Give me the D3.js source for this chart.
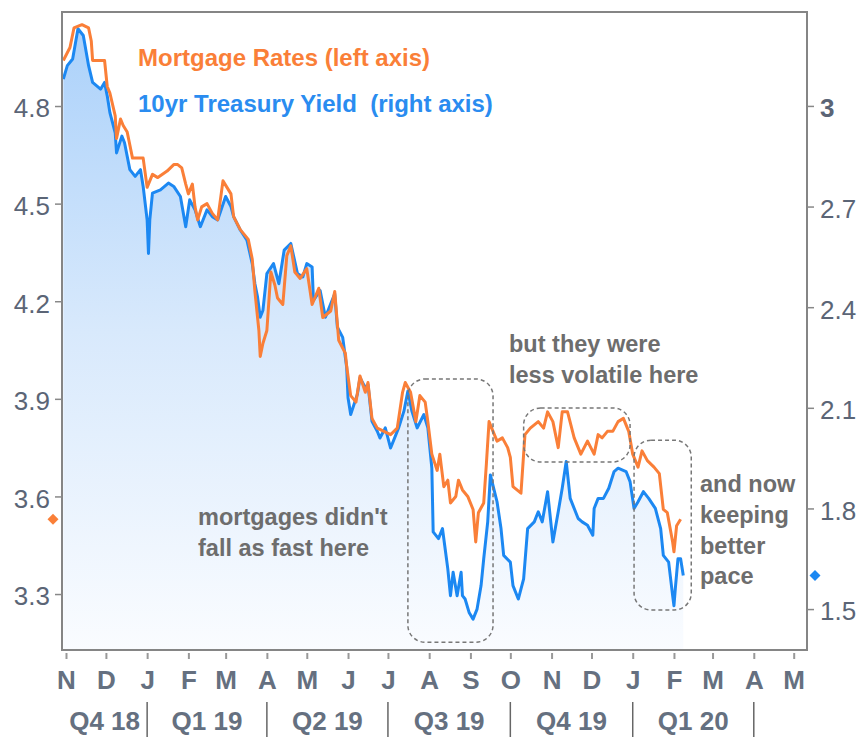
<!DOCTYPE html>
<html>
<head>
<meta charset="utf-8">
<script src="https://cdn.jsdelivr.net/npm/d3@7"></script>
<style>
  body { margin: 0; background: #fff; }
  svg text { font-family: "Liberation Sans", Arial, sans-serif; }
</style>
</head>
<body>
<div class="chart"></div>
<script>
// mortgage rates, left axis
const mortgageRates = [
  ["2018-10-30", 4.94], ["2018-11-04", 4.98], ["2018-11-07", 5.04], ["2018-11-13", 5.05], ["2018-11-18", 5.04],
  ["2018-11-20", 5.00], ["2018-11-21", 4.94], ["2018-11-30", 4.94], ["2018-12-02", 4.86], ["2018-12-04", 4.84],
  ["2018-12-08", 4.77], ["2018-12-09", 4.70], ["2018-12-12", 4.76], ["2018-12-14", 4.74], ["2018-12-17", 4.72],
  ["2018-12-21", 4.64], ["2018-12-29", 4.64], ["2019-01-01", 4.55], ["2019-01-05", 4.59], ["2019-01-09", 4.58],
  ["2019-01-16", 4.60], ["2019-01-21", 4.62], ["2019-01-24", 4.62], ["2019-01-27", 4.61], ["2019-01-30", 4.56],
  ["2019-02-01", 4.53], ["2019-02-04", 4.56], ["2019-02-06", 4.49], ["2019-02-08", 4.45], ["2019-02-11", 4.49],
  ["2019-02-15", 4.50], ["2019-02-19", 4.47], ["2019-02-23", 4.45], ["2019-02-27", 4.57], ["2019-03-02", 4.55],
  ["2019-03-05", 4.53], ["2019-03-07", 4.46], ["2019-03-12", 4.42], ["2019-03-18", 4.39], ["2019-03-21", 4.33],
  ["2019-03-23", 4.23], ["2019-03-26", 4.11], ["2019-03-27", 4.03], ["2019-03-29", 4.07], ["2019-04-01", 4.11],
  ["2019-04-04", 4.29], ["2019-04-07", 4.25], ["2019-04-09", 4.21], ["2019-04-13", 4.19], ["2019-04-16", 4.34],
  ["2019-04-19", 4.37], ["2019-04-22", 4.29], ["2019-04-26", 4.27], ["2019-05-01", 4.30], ["2019-05-05", 4.19],
  ["2019-05-10", 4.24], ["2019-05-13", 4.15], ["2019-05-19", 4.17], ["2019-05-22", 4.23], ["2019-05-25", 4.08],
  ["2019-05-30", 4.04], ["2019-05-31", 4.00], ["2019-06-03", 3.91], ["2019-06-07", 3.89], ["2019-06-10", 3.97],
  ["2019-06-14", 3.92], ["2019-06-16", 3.95], ["2019-06-19", 3.84], ["2019-06-23", 3.81], ["2019-06-28", 3.80],
  ["2019-07-03", 3.79], ["2019-07-08", 3.81], ["2019-07-12", 3.92], ["2019-07-14", 3.95], ["2019-07-18", 3.92],
  ["2019-07-22", 3.83], ["2019-07-25", 3.91], ["2019-07-29", 3.89], ["2019-07-31", 3.83], ["2019-08-03", 3.73],
  ["2019-08-07", 3.68], ["2019-08-09", 3.73], ["2019-08-12", 3.63], ["2019-08-15", 3.65], ["2019-08-17", 3.58],
  ["2019-08-21", 3.60], ["2019-08-23", 3.65], ["2019-08-26", 3.62], ["2019-08-30", 3.60], ["2019-09-03", 3.56],
  ["2019-09-05", 3.46], ["2019-09-07", 3.55], ["2019-09-11", 3.58], ["2019-09-13", 3.70], ["2019-09-15", 3.83],
  ["2019-09-18", 3.80], ["2019-09-21", 3.77], ["2019-09-25", 3.78], ["2019-09-29", 3.75], ["2019-10-01", 3.72],
  ["2019-10-03", 3.63], ["2019-10-09", 3.61], ["2019-10-12", 3.79], ["2019-10-16", 3.81], ["2019-10-22", 3.83],
  ["2019-10-26", 3.81], ["2019-10-29", 3.86], ["2019-11-02", 3.83], ["2019-11-06", 3.75], ["2019-11-09", 3.86],
  ["2019-11-13", 3.86], ["2019-11-18", 3.78], ["2019-11-23", 3.73], ["2019-11-28", 3.77], ["2019-12-03", 3.73],
  ["2019-12-06", 3.79], ["2019-12-09", 3.78], ["2019-12-13", 3.80], ["2019-12-17", 3.80], ["2019-12-21", 3.83],
  ["2019-12-25", 3.84], ["2019-12-29", 3.80], ["2020-01-01", 3.73], ["2020-01-05", 3.69], ["2020-01-08", 3.74],
  ["2020-01-12", 3.71], ["2020-01-17", 3.69], ["2020-01-21", 3.67], ["2020-01-24", 3.56], ["2020-01-27", 3.55],
  ["2020-01-31", 3.46], ["2020-02-01", 3.43], ["2020-02-03", 3.51], ["2020-02-06", 3.53]
];

// 10yr treasury yield, right axis
const treasuryYields = [
  ["2018-10-30", 3.08], ["2018-11-02", 3.12], ["2018-11-06", 3.14], ["2018-11-10", 3.23], ["2018-11-14", 3.21],
  ["2018-11-18", 3.12], ["2018-11-21", 3.07], ["2018-11-27", 3.05], ["2018-11-30", 3.07], ["2018-12-02", 3.03],
  ["2018-12-04", 2.98], ["2018-12-08", 2.92], ["2018-12-09", 2.86], ["2018-12-13", 2.91], ["2018-12-15", 2.89],
  ["2018-12-19", 2.81], ["2018-12-23", 2.79], ["2018-12-27", 2.81], ["2018-12-29", 2.76], ["2019-01-01", 2.66],
  ["2019-01-02", 2.56], ["2019-01-03", 2.66], ["2019-01-05", 2.74], ["2019-01-11", 2.75], ["2019-01-17", 2.77],
  ["2019-01-21", 2.76], ["2019-01-26", 2.73], ["2019-01-30", 2.64], ["2019-02-02", 2.72], ["2019-02-06", 2.69],
  ["2019-02-10", 2.64], ["2019-02-15", 2.69], ["2019-02-19", 2.67], ["2019-02-23", 2.66], ["2019-03-01", 2.73],
  ["2019-03-05", 2.70], ["2019-03-07", 2.67], ["2019-03-12", 2.63], ["2019-03-17", 2.60], ["2019-03-21", 2.53],
  ["2019-03-23", 2.47], ["2019-03-25", 2.43], ["2019-03-27", 2.37], ["2019-03-29", 2.39], ["2019-04-01", 2.50],
  ["2019-04-06", 2.53], ["2019-04-10", 2.47], ["2019-04-14", 2.57], ["2019-04-19", 2.59], ["2019-04-24", 2.50],
  ["2019-04-28", 2.49], ["2019-05-01", 2.53], ["2019-05-05", 2.52], ["2019-05-06", 2.42], ["2019-05-11", 2.45],
  ["2019-05-15", 2.37], ["2019-05-19", 2.41], ["2019-05-22", 2.44], ["2019-05-24", 2.34], ["2019-05-28", 2.31],
  ["2019-05-30", 2.25], ["2019-05-31", 2.22], ["2019-06-01", 2.13], ["2019-06-03", 2.08], ["2019-06-08", 2.14],
  ["2019-06-10", 2.19], ["2019-06-14", 2.16], ["2019-06-16", 2.17], ["2019-06-19", 2.06], ["2019-06-23", 2.03],
  ["2019-06-25", 2.01], ["2019-06-29", 2.04], ["2019-07-03", 1.98], ["2019-07-07", 2.02], ["2019-07-09", 2.04],
  ["2019-07-13", 2.09], ["2019-07-16", 2.15], ["2019-07-19", 2.09], ["2019-07-23", 2.04], ["2019-07-28", 2.08],
  ["2019-07-31", 2.04], ["2019-08-03", 1.92], ["2019-08-04", 1.73], ["2019-08-08", 1.71], ["2019-08-11", 1.74],
  ["2019-08-13", 1.68], ["2019-08-15", 1.62], ["2019-08-17", 1.54], ["2019-08-19", 1.61], ["2019-08-22", 1.54],
  ["2019-08-25", 1.61], ["2019-08-26", 1.54], ["2019-08-28", 1.53], ["2019-08-31", 1.49], ["2019-09-03", 1.47],
  ["2019-09-06", 1.50], ["2019-09-09", 1.57], ["2019-09-11", 1.65], ["2019-09-14", 1.76], ["2019-09-16", 1.90],
  ["2019-09-21", 1.82], ["2019-09-24", 1.74], ["2019-09-26", 1.66], ["2019-10-01", 1.64], ["2019-10-03", 1.57],
  ["2019-10-07", 1.53], ["2019-10-11", 1.59], ["2019-10-14", 1.74], ["2019-10-19", 1.76], ["2019-10-22", 1.79],
  ["2019-10-25", 1.76], ["2019-10-29", 1.85], ["2019-11-02", 1.70], ["2019-11-06", 1.79], ["2019-11-09", 1.86],
  ["2019-11-12", 1.94], ["2019-11-15", 1.83], ["2019-11-21", 1.77], ["2019-11-24", 1.76], ["2019-11-28", 1.75],
  ["2019-12-02", 1.72], ["2019-12-03", 1.80], ["2019-12-06", 1.83], ["2019-12-10", 1.83], ["2019-12-14", 1.86],
  ["2019-12-18", 1.91], ["2019-12-21", 1.92], ["2019-12-27", 1.91], ["2019-12-30", 1.88], ["2020-01-02", 1.80],
  ["2020-01-05", 1.82], ["2020-01-09", 1.85], ["2020-01-13", 1.83], ["2020-01-18", 1.80], ["2020-01-22", 1.74],
  ["2020-01-24", 1.66], ["2020-01-28", 1.64], ["2020-01-31", 1.54], ["2020-02-01", 1.51], ["2020-02-02", 1.56],
  ["2020-02-04", 1.65], ["2020-02-06", 1.65], ["2020-02-08", 1.60]
];

const leftTicks = [4.8, 4.5, 4.2, 3.9, 3.6, 3.3];
const rightTicks = [3, 2.7, 2.4, 2.1, 1.8, 1.5];
const monthTicks = ["2018-11-01", "2018-12-01", "2019-01-01", "2019-02-01", "2019-03-01", "2019-04-01",
  "2019-05-01", "2019-06-01", "2019-07-01", "2019-08-01", "2019-09-01", "2019-10-01", "2019-11-01",
  "2019-12-01", "2020-01-01", "2020-02-01", "2020-03-01", "2020-04-01", "2020-05-01"];
const monthLabels = ["N", "D", "J", "F", "M", "A", "M", "J", "J", "A", "S", "O", "N", "D", "J", "F", "M", "A", "M"];
const quarterLabels = ["Q4 18", "Q1 19", "Q2 19", "Q3 19", "Q4 19", "Q1 20"];
const quarterStarts = ["2018-10-01", "2019-01-01", "2019-04-01", "2019-07-01", "2019-10-01", "2020-01-01", "2020-04-01"];

// highlighted periods: [start, end, low, high] in left-axis units
const boxes = [
  ["2019-07-16", "2019-09-18", 3.152, 3.961],
  ["2019-10-11", "2019-12-30", 3.706, 3.872],
  ["2020-01-02", "2020-02-14", 3.251, 3.773]
];

const parse = d3.utcParse("%Y-%m-%d");
const width = 862, height = 737;
const plot = { left: 62, right: 807, top: 12, bottom: 650 };
const orange = "#fa7f38", blue = "#1c88f2";
const axisColor = "#5b6576";

const svg = d3.select(".chart").append("svg").attr("width", width).attr("height", height);

const x = d3.scaleUtc().domain([parse("2018-10-29"), parse("2020-05-11")]).range([plot.left, plot.right]);
const yLeft = d3.scaleLinear().domain([3.128, 5.089]).range([plot.bottom, plot.top]);
const yRight = d3.scaleLinear().domain([1.378, 3.28]).range([plot.bottom, plot.top]);

const mortgage = mortgageRates.map(d => ({ date: parse(d[0]), value: d[1] }));
const treasury = treasuryYields.map(d => ({ date: parse(d[0]), value: d[1] }));

const addGradient = () => {
  const grad = svg.append("defs").append("linearGradient")
    .attr("id", "fillGrad")
    .attr("gradientUnits", "userSpaceOnUse")
    .attr("x1", 0).attr("y1", plot.top).attr("x2", 0).attr("y2", plot.bottom);
  grad.append("stop").attr("offset", "0%").attr("stop-color", "#a9d0fa");
  grad.append("stop").attr("offset", "50%").attr("stop-color", "#d8e9fc");
  grad.append("stop").attr("offset", "100%").attr("stop-color", "#fafcff");
}

const addSeries = () => {
  svg.append("path")
    .datum(treasury)
    .attr("fill", "url(#fillGrad)")
    .attr("d", d3.area().x(d => x(d.date)).y0(plot.bottom).y1(d => yRight(d.value)));

  svg.append("path")
    .datum(treasury)
    .attr("fill", "none")
    .attr("stroke", blue)
    .attr("stroke-width", 3)
    .attr("stroke-linejoin", "round")
    .attr("d", d3.line().x(d => x(d.date)).y(d => yRight(d.value)));

  svg.append("path")
    .datum(mortgage)
    .attr("fill", "none")
    .attr("stroke", orange)
    .attr("stroke-width", 3)
    .attr("stroke-linejoin", "round")
    .attr("d", d3.line().x(d => x(d.date)).y(d => yLeft(d.value)));
}

const addFrame = () => {
  svg.append("rect")
    .attr("x", plot.left).attr("y", plot.top)
    .attr("width", plot.right - plot.left).attr("height", plot.bottom - plot.top)
    .attr("fill", "none")
    .attr("stroke", "#858585")
    .attr("stroke-width", 2);
}

const addYAxes = () => {
  const left = svg.append("g")
    .attr("transform", `translate(${plot.left},0)`)
    .call(d3.axisLeft(yLeft).tickValues(leftTicks).tickSize(7).tickPadding(5).tickFormat(d3.format(".1f")))
    .call(g => g.select(".domain").remove());
  left.selectAll("line").attr("stroke", "#888").attr("stroke-width", 1.5);
  left.selectAll("text").attr("fill", axisColor).attr("font-size", 26).attr("dy", "0.42em");

  const right = svg.append("g")
    .attr("transform", `translate(${plot.right},0)`)
    .call(d3.axisRight(yRight).tickValues(rightTicks).tickSize(7).tickPadding(6).tickFormat(d3.format("~g")))
    .call(g => g.select(".domain").remove());
  right.selectAll("line").attr("stroke", "#888").attr("stroke-width", 1.5);
  right.selectAll("text").attr("fill", axisColor).attr("font-size", 26).attr("dy", "0.42em")
    .attr("font-weight", d => d === 3 ? "bold" : null);
}

const addXAxis = () => {
  const months = monthTicks.map(parse);
  const g = svg.append("g")
    .attr("transform", `translate(0,${plot.bottom + 3})`)
    .call(d3.axisBottom(x).tickValues(months).tickSize(6).tickPadding(12).tickFormat((d, i) => monthLabels[i]))
    .call(g => g.select(".domain").remove());
  g.selectAll("line").attr("stroke", "#999").attr("stroke-width", 2);
  g.selectAll("text").attr("fill", "#657080").attr("font-size", 26).attr("font-weight", "bold");

  const starts = quarterStarts.map(parse);
  svg.append("g").selectAll("line")
    .data(starts.slice(1))
    .enter()
    .append("line")
    .attr("x1", d => x(d)).attr("x2", d => x(d))
    .attr("y1", 702).attr("y2", height)
    .attr("stroke", "#666").attr("stroke-width", 1.5);

  svg.append("g").selectAll("text")
    .data(quarterLabels)
    .enter()
    .append("text")
    .text(d => d)
    .attr("x", (d, i) => (Math.max(plot.left, x(starts[i])) + x(starts[i + 1])) / 2)
    .attr("y", 730)
    .attr("text-anchor", "middle")
    .attr("fill", "#657080")
    .attr("font-size", 26)
    .attr("font-weight", "bold");
}

const addLegend = () => {
  svg.append("text").text("Mortgage Rates (left axis)")
    .attr("x", 138).attr("y", 66)
    .attr("fill", orange).attr("font-size", 24).attr("font-weight", "bold");
  svg.append("text").text("10yr Treasury Yield\u00a0 (right axis)")
    .attr("x", 138).attr("y", 112)
    .attr("fill", "#2a8cf0").attr("font-size", 24).attr("font-weight", "bold");
}

const addMarkers = () => {
  const diamond = d3.symbol(d3.symbolSquare, 60);
  const lastM = mortgage[mortgage.length - 1];
  const lastT = treasury[treasury.length - 1];
  svg.append("path").attr("d", diamond)
    .attr("transform", `translate(53,${yLeft(lastM.value)}) rotate(45)`)
    .attr("fill", orange);
  svg.append("path").attr("d", diamond)
    .attr("transform", `translate(815,${yRight(lastT.value)}) rotate(45)`)
    .attr("fill", blue);
}

const addAnnotations = () => {
  svg.append("g").selectAll("rect")
    .data(boxes)
    .enter()
    .append("rect")
    .attr("x", d => x(parse(d[0])))
    .attr("y", d => yLeft(d[3]))
    .attr("width", d => x(parse(d[1])) - x(parse(d[0])))
    .attr("height", d => yLeft(d[2]) - yLeft(d[3]))
    .attr("rx", 17)
    .attr("fill", "none")
    .attr("stroke", "#777")
    .attr("stroke-width", 1.5)
    .attr("stroke-dasharray", "4,3");

  const notes = [
    { x: 198, y: 525, lines: ["mortgages didn't", "fall as fast here"] },
    { x: 509, y: 352, lines: ["but they were", "less volatile here"] },
    { x: 700, y: 492, lines: ["and now", "keeping", "better", "pace"] }
  ];
  notes.forEach(n => {
    svg.append("text")
      .attr("fill", "#6d6d6d")
      .attr("font-size", 23.5)
      .attr("font-weight", "bold")
      .selectAll("tspan")
      .data(n.lines)
      .enter()
      .append("tspan")
      .attr("x", n.x)
      .attr("y", (d, i) => n.y + i * 30.8)
      .text(d => d);
  });
}

addGradient();
addSeries();
addFrame();
addYAxes();
addXAxis();
addLegend();
addMarkers();
addAnnotations();
</script>
</body>
</html>
